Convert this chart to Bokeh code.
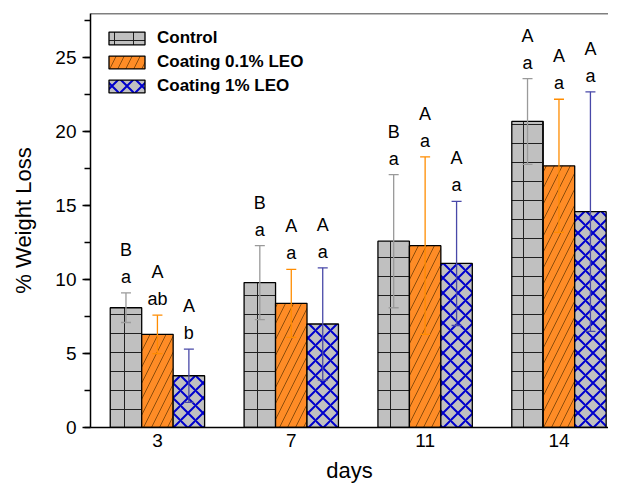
from bokeh.plotting import figure
from bokeh.models import (ColumnDataSource, Whisker, TeeHead, SingleIntervalTicker,
                          FixedTicker, Span, Range1d)
from bokeh.core.properties import value
from bokeh.embed import file_html
from bokeh.resources import INLINE

days = ["3", "7", "11", "14"]
series_names = ["Control", "Coating 0.1% LEO", "Coating 1% LEO"]

control = [8.1, 9.8, 12.6, 20.7]
control_err = [1.0, 2.5, 4.5, 2.9]
coat01 = [6.3, 8.4, 12.3, 17.7]
coat01_err = [1.3, 2.3, 6.0, 4.5]
coat1 = [3.5, 7.0, 11.1, 14.6]
coat1_err = [1.8, 3.8, 4.2, 8.1]

control_upper_letters = ["B", "B", "B", "A"]
control_lower_letters = ["a", "a", "a", "a"]
coat01_upper_letters = ["A", "A", "A", "A"]
coat01_lower_letters = ["ab", "a", "a", "a"]
coat1_upper_letters = ["A", "A", "A", "A"]
coat1_lower_letters = ["b", "a", "a", "a"]

FONT = "Liberation Sans"
BW = 0.235

p = figure(frame_width=518, frame_height=414, min_border_left=90, min_border_right=0,
           min_border_top=13, min_border_bottom=50,
           x_range=Range1d(-0.5, 3.37), y_range=Range1d(0, 28),
           output_backend="svg", toolbar_location=None)
p.outline_line_color = None
p.grid.visible = False
p.background_fill_color = "white"

styles = [
    dict(fill_color="#c0c0c0", hatch_pattern="+", hatch_color="#202020", hatch_scale=19,
         hatch_weight=1.0, err_color="#9a9a9a"),
    dict(fill_color="#ff8c26", hatch_pattern="/", hatch_color="#5a3000", hatch_scale=16,
         hatch_weight=0.7, err_color="#ff8c00"),
    dict(fill_color="#c0c0c0", hatch_pattern="x", hatch_color="#0000cc", hatch_scale=15,
         hatch_weight=2.0, err_color="#4848a8"),
]
data = [(control, control_err, control_upper_letters, control_lower_letters),
        (coat01, coat01_err, coat01_upper_letters, coat01_lower_letters),
        (coat1, coat1_err, coat1_upper_letters, coat1_lower_letters)]

for k, (name, st, (vals, errs, up, lo)) in enumerate(zip(series_names, styles, data)):
    xs = [i + (k - 1) * BW for i in range(len(days))]
    src = ColumnDataSource(dict(
        x=xs, top=vals,
        upper=[v + e for v, e in zip(vals, errs)],
        lower=[v - e for v, e in zip(vals, errs)],
        up=up, lo=lo))
    p.vbar(x="x", top="top", width=BW, source=src, fill_color=st["fill_color"],
           line_color="black", line_width=1.3,
           hatch_pattern=st["hatch_pattern"], hatch_color=st["hatch_color"],
           hatch_scale=st["hatch_scale"], hatch_weight=st["hatch_weight"],
           legend_label=name)
    w = Whisker(base="x", upper="upper", lower="lower", source=src,
                line_color=st["err_color"], line_width=1.3, level="overlay",
                upper_head=TeeHead(size=10, line_color=st["err_color"], line_width=1.3),
                lower_head=TeeHead(size=10, line_color=st["err_color"], line_width=1.3))
    p.add_layout(w)
    p.text(x="x", y="upper", text="lo", source=src, text_font=value(FONT),
           text_font_size="18px", text_align="center", text_baseline="middle",
           y_offset=-16, text_color="black")
    p.text(x="x", y="upper", text="up", source=src, text_font=value(FONT),
           text_font_size="18px", text_align="center", text_baseline="middle",
           y_offset=-43, text_color="black")

# top frame line
p.add_layout(Span(location=28, dimension="width", line_color="black", line_width=1.5))

# x axis
p.xaxis.ticker = FixedTicker(ticks=list(range(len(days))))
p.xaxis.major_label_overrides = {i: d for i, d in enumerate(days)}
p.xaxis.major_tick_line_color = None
p.xaxis.minor_tick_line_color = None
p.xaxis.axis_line_width = 1.5
p.xaxis.axis_line_color = "black"
p.xaxis.major_label_text_font = FONT
p.xaxis.major_label_text_font_size = "19px"
p.xaxis.major_label_text_color = "black"
p.xaxis.major_label_standoff = 0
p.xaxis.axis_label = "days"
p.xaxis.axis_label_text_font = FONT
p.xaxis.axis_label_text_font_size = "22px"
p.xaxis.axis_label_text_font_style = "normal"
p.xaxis.axis_label_text_color = "black"
p.xaxis.axis_label_standoff = 8

# y axis
p.yaxis.ticker = SingleIntervalTicker(interval=5, num_minor_ticks=2)
p.yaxis.axis_line_width = 1.5
p.yaxis.axis_line_color = "black"
p.yaxis.major_tick_out = 8
p.yaxis.major_tick_in = 0
p.yaxis.minor_tick_out = 6
p.yaxis.minor_tick_in = 0
p.yaxis.major_tick_line_width = 1.3
p.yaxis.minor_tick_line_width = 1.3
p.yaxis.major_tick_line_color = "black"
p.yaxis.minor_tick_line_color = "black"
p.yaxis.major_label_text_font = FONT
p.yaxis.major_label_text_font_size = "19px"
p.yaxis.major_label_text_color = "black"
p.yaxis.major_label_standoff = 6
p.yaxis.axis_label = "% Weight Loss"
p.yaxis.axis_label_text_font = FONT
p.yaxis.axis_label_text_font_size = "22px"
p.yaxis.axis_label_text_font_style = "normal"
p.yaxis.axis_label_text_color = "black"
p.yaxis.axis_label_standoff = 16

# legend
lg = p.legend[0]
lg.location = "top_left"
lg.margin = 14
lg.padding = 13
lg.border_line_color = None
lg.background_fill_alpha = 0
lg.glyph_width = 45
lg.glyph_height = 16
lg.label_height = 22
lg.spacing = 2
lg.label_standoff = 8
lg.label_text_font = FONT
lg.label_text_font_size = "17px"
lg.label_text_font_style = "bold"
lg.label_text_color = "black"

open("out.html", "w").write(file_html(p, INLINE))
